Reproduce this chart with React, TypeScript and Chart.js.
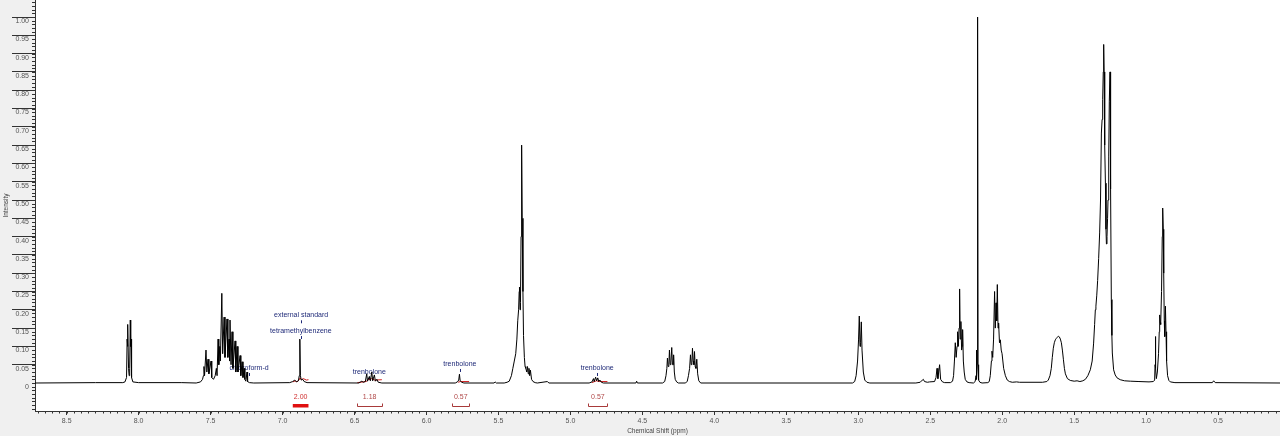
import React, { useEffect, useRef } from "react";
import { Chart, registerables } from "chart.js";
Chart.register(...registerables);

// ---- axis definitions ----
const xTickValues = [8.5, 8.0, 7.5, 7.0, 6.5, 6.0, 5.5, 5.0, 4.5, 4.0, 3.5, 3.0, 2.5, 2.0, 1.5, 1.0, 0.5];
const yTickValues = [0, 0.05, 0.1, 0.15, 0.2, 0.25, 0.3, 0.35, 0.4, 0.45, 0.5, 0.55, 0.6, 0.65, 0.7, 0.75, 0.8, 0.85, 0.9, 0.95, 1.0];
const xRange = [0.07, 8.72];
const yRange = [-0.0765, 1.0465];

// ---- spectrum, [ppm, intensity] ----
const segDoublet807: [number, number][] = [
  [8.72, 0], [8.3, 0.001], [8.11, 0.001], [8.095, 0.003], [8.084, 0.015], [8.08, 0.12], [8.078, 0.1],
  [8.074, 0.16], [8.07, 0.04], [8.066, 0.02], [8.062, 0.04], [8.058, 0.172], [8.055, 0.1], [8.053, 0.12],
  [8.049, 0.015], [8.04, 0.003], [8.0, 0.001], [7.7, 0.001],
];
const segAromatic: [number, number][] = [
  [7.6, 0], [7.57, 0.003], [7.556, 0.01], [7.55, 0.02], [7.546, 0.045], [7.542, 0.02], [7.532, 0.09],
  [7.526, 0.03], [7.518, 0.065], [7.512, 0.025], [7.497, 0.06], [7.492, 0.015], [7.48, 0.01], [7.468, 0.02],
  [7.46, 0.04], [7.455, 0.02], [7.448, 0.12], [7.443, 0.05], [7.436, 0.1], [7.432, 0.06], [7.422, 0.245],
  [7.416, 0.08], [7.406, 0.18], [7.4, 0.07], [7.386, 0.175], [7.38, 0.07], [7.372, 0.12], [7.368, 0.06],
  [7.365, 0.172], [7.358, 0.05], [7.351, 0.14], [7.345, 0.04], [7.33, 0.115], [7.325, 0.03], [7.316, 0.1],
  [7.31, 0.03], [7.295, 0.075], [7.29, 0.02], [7.281, 0.058], [7.275, 0.015], [7.267, 0.04], [7.262, 0.01],
  [7.255, 0.005], [7.247, 0.03], [7.243, 0.004], [7.23, 0.001], [7.2, 0], [6.95, 0.001],
];
const segStandard: [number, number][] = [
  [6.93, 0.004], [6.915, 0.008], [6.905, 0.003], [6.89, 0.006], [6.884, 0.02], [6.88, 0.12], [6.876, 0.02],
  [6.87, 0.008], [6.86, 0.01], [6.85, 0.004], [6.83, 0.001], [6.47, 0],
];
const segTren640: [number, number][] = [
  [6.449, 0.005], [6.44, 0.002], [6.425, 0.004], [6.415, 0.025], [6.41, 0.005], [6.397, 0.018], [6.39, 0.006],
  [6.38, 0.03], [6.374, 0.006], [6.362, 0.022], [6.355, 0.005], [6.345, 0.01], [6.335, 0.002], [6.31, 0], [5.8, 0],
];
const segTren577: [number, number][] = [
  [5.785, 0.003], [5.776, 0.008], [5.771, 0.024], [5.766, 0.006], [5.755, 0.002], [5.74, 0], [5.53, 0],
  [5.523, 0.003], [5.515, 0],
];
const segOlefin534: [number, number][] = [
  [5.46, 0], [5.44, 0.002], [5.425, 0.005], [5.41, 0.02], [5.4, 0.04], [5.39, 0.06], [5.38, 0.08], [5.372, 0.12],
  [5.366, 0.17], [5.36, 0.2], [5.356, 0.25], [5.354, 0.262], [5.35, 0.2], [5.347, 0.22], [5.343, 0.4],
  [5.34, 0.6], [5.338, 0.65], [5.335, 0.45], [5.33, 0.25], [5.326, 0.13], [5.32, 0.07], [5.315, 0.045],
  [5.31, 0.04], [5.303, 0.03], [5.298, 0.045], [5.293, 0.025], [5.288, 0.04], [5.283, 0.02], [5.278, 0.035],
  [5.27, 0.01], [5.26, 0.004], [5.245, 0.001], [5.23, 0], [5.16, 0.004], [5.15, 0],
];
const segTren482: [number, number][] = [
  [4.87, 0], [4.85, 0.003], [4.84, 0.012], [4.835, 0.004], [4.825, 0.016], [4.818, 0.006], [4.81, 0.014],
  [4.803, 0.004], [4.795, 0.008], [4.785, 0.002], [4.77, 0], [4.545, 0], [4.54, 0.005], [4.535, 0],
];
const segMulti430: [number, number][] = [
  [4.36, 0], [4.345, 0.004], [4.336, 0.02], [4.33, 0.04], [4.326, 0.068], [4.321, 0.045], [4.316, 0.05],
  [4.312, 0.09], [4.307, 0.05], [4.302, 0.055], [4.296, 0.097], [4.291, 0.05], [4.287, 0.05], [4.283, 0.077],
  [4.278, 0.03], [4.272, 0.01], [4.262, 0.003], [4.25, 0],
];
const segMulti415: [number, number][] = [
  [4.2, 0], [4.188, 0.005], [4.18, 0.02], [4.172, 0.04], [4.166, 0.077], [4.161, 0.05], [4.156, 0.055],
  [4.152, 0.095], [4.147, 0.06], [4.142, 0.05], [4.138, 0.086], [4.133, 0.045], [4.128, 0.04], [4.122, 0.065],
  [4.116, 0.025], [4.108, 0.006], [4.095, 0], [3.04, 0],
];
const segPeak299: [number, number][] = [
  [3.025, 0.004], [3.015, 0.02], [3.005, 0.06], [2.998, 0.12], [2.993, 0.183], [2.988, 0.1], [2.984, 0.11],
  [2.979, 0.167], [2.974, 0.09], [2.965, 0.03], [2.955, 0.008], [2.94, 0.002], [2.92, 0], [2.6, 0],
];
const segSmall250: [number, number][] = [
  [2.57, 0.002], [2.555, 0.008], [2.548, 0.01], [2.54, 0.004], [2.52, 0.002], [2.505, 0.003], [2.47, 0.004],
  [2.46, 0.015], [2.453, 0.04], [2.447, 0.012], [2.435, 0.05], [2.428, 0.01], [2.415, 0.003], [2.4, 0.001],
];
const segMulti230: [number, number][] = [
  [2.36, 0.001], [2.345, 0.005], [2.338, 0.02], [2.332, 0.06], [2.326, 0.11], [2.32, 0.07], [2.314, 0.1],
  [2.31, 0.14], [2.305, 0.1], [2.3, 0.15], [2.296, 0.257], [2.292, 0.12], [2.287, 0.168], [2.282, 0.09],
  [2.278, 0.1], [2.275, 0.146], [2.27, 0.06], [2.264, 0.03], [2.257, 0.01], [2.245, 0.003], [2.23, 0.001],
];
const segSinglet217: [number, number][] = [
  [2.2, 0], [2.188, 0.004], [2.182, 0.02], [2.18, 0.09], [2.177, 0.01], [2.174, 0.05], [2.171, 1.0],
  [2.168, 0.05], [2.164, 0.008], [2.155, 0.002], [2.14, 0],
];
const segMulti203: [number, number][] = [
  [2.1, 0.001], [2.09, 0.004], [2.083, 0.02], [2.075, 0.06], [2.071, 0.087], [2.066, 0.07], [2.06, 0.12],
  [2.053, 0.25], [2.048, 0.15], [2.043, 0.219], [2.038, 0.17], [2.034, 0.269], [2.029, 0.15], [2.025, 0.164],
  [2.019, 0.11], [2.013, 0.118], [2.007, 0.09], [2.001, 0.08], [1.99, 0.04], [1.978, 0.02], [1.965, 0.008],
  [1.95, 0.004], [1.93, 0.002], [1.9, 0.003], [1.88, 0.002],
];
const segBroad160: [number, number][] = [
  [1.72, 0.002], [1.69, 0.004], [1.68, 0.008], [1.668, 0.02], [1.659, 0.04], [1.652, 0.07], [1.645, 0.095],
  [1.638, 0.11], [1.631, 0.118], [1.624, 0.122], [1.617, 0.125], [1.61, 0.128], [1.603, 0.126], [1.596, 0.12],
  [1.589, 0.11], [1.582, 0.09], [1.575, 0.065], [1.568, 0.04], [1.561, 0.025], [1.547, 0.012], [1.527, 0.007],
  [1.5, 0.005], [1.48, 0.006],
];
const segMethylene128: [number, number][] = [
  [1.46, 0.004], [1.44, 0.006], [1.422, 0.01], [1.405, 0.02], [1.388, 0.036], [1.375, 0.06], [1.365, 0.109],
  [1.358, 0.16], [1.353, 0.2], [1.349, 0.21], [1.343, 0.24], [1.337, 0.28], [1.33, 0.34], [1.323, 0.41],
  [1.317, 0.5], [1.311, 0.683], [1.306, 0.72], [1.302, 0.774], [1.298, 0.85], [1.295, 0.925], [1.292, 0.85],
  [1.29, 0.774], [1.286, 0.65], [1.283, 0.546], [1.279, 0.42], [1.276, 0.38], [1.272, 0.4], [1.268, 0.45],
  [1.265, 0.5], [1.26, 0.62], [1.256, 0.77], [1.251, 0.85], [1.247, 0.53], [1.242, 0.228], [1.238, 0.13],
  [1.235, 0.082], [1.226, 0.036], [1.215, 0.022], [1.202, 0.014], [1.18, 0.009], [1.15, 0.006], [1.11, 0.005],
  [1.05, 0.004], [0.98, 0.003],
];
const segMethyl088: [number, number][] = [
  [0.95, 0.004], [0.941, 0.008], [0.938, 0.05], [0.936, 0.127], [0.933, 0.04], [0.929, 0.012], [0.922, 0.03],
  [0.914, 0.08], [0.909, 0.14], [0.906, 0.186], [0.902, 0.165], [0.899, 0.16], [0.893, 0.25], [0.888, 0.4],
  [0.885, 0.478], [0.881, 0.42], [0.878, 0.3], [0.874, 0.17], [0.871, 0.127], [0.866, 0.21], [0.862, 0.14],
  [0.858, 0.06], [0.851, 0.02], [0.842, 0.007], [0.832, 0.003], [0.8, 0.001], [0.54, 0.001], [0.531, 0.006],
  [0.52, 0.001], [0.07, 0],
];

// ---- integral curves (red, near baseline) ----
const integralCurve200: [number, number][] = [
  [6.929, 0.003], [6.91, 0.006], [6.9, 0.003], [6.886, 0.008], [6.878, 0.014], [6.87, 0.009], [6.855, 0.012], [6.835, 0.008], [6.82, 0.009],
];
const integralCurve118: [number, number][] = [
  [6.48, 0.001], [6.42, 0.004], [6.4, 0.01], [6.38, 0.012], [6.36, 0.008], [6.31, 0.009],
];
const integralCurve057a: [number, number][] = [[5.78, 0.002], [5.765, 0.004], [5.704, 0.004]];
const integralCurve057b: [number, number][] = [[4.85, 0.001], [4.82, 0.006], [4.8, 0.004], [4.743, 0.004]];

// ---- integral brackets ----
const integralLabels = ["2.00", "1.18", "0.57", "0.57"];
const integralFrom = [6.929, 6.48, 5.82, 4.875];
const integralTo = [6.82, 6.31, 5.704, 4.743];

// ---- peak annotations ----
const annotationText = ["external standard", "tetramethylbenzene", "chloroform-d", "trenbolone", "trenbolone", "trenbolone"];
const annotationPpm = [6.871, 6.873, 7.233, 6.397, 5.768, 4.814];
const annotationLevel = [0.185, 0.142, 0.041, 0.03, 0.052, 0.041];

const spectrum = [
  ...segDoublet807, ...segAromatic, ...segStandard, ...segTren640, ...segTren577, ...segOlefin534,
  ...segTren482, ...segMulti430, ...segMulti415, ...segPeak299, ...segSmall250, ...segMulti230,
  ...segSinglet217, ...segMulti203, ...segBroad160, ...segMethylene128, ...segMethyl088,
];

const toXY = (arr: [number, number][]) => arr.map(([x, y]) => ({ x, y }));

const FONT = '"Liberation Sans", Arial, sans-serif';

const decorPlugin = {
  id: "nmrDecor",
  beforeDraw(chart: any) {
    const { ctx, chartArea: ca, width, height } = chart;
    ctx.save();
    ctx.fillStyle = "#f0f0f0";
    ctx.fillRect(0, 0, width, height);
    ctx.fillStyle = "#ffffff";
    ctx.fillRect(ca.left, ca.top, ca.right - ca.left, ca.bottom - ca.top);
    ctx.restore();
  },
  beforeDatasetsDraw(chart: any) {
    const { ctx } = chart;
    const xs = chart.scales.x;
    const ys = chart.scales.y;
    ctx.save();
    ctx.font = `7px ${FONT}`;
    ctx.fillStyle = "#1f2a78";
    ctx.strokeStyle = "#1f2a78";
    ctx.textAlign = "center";
    ctx.textBaseline = "middle";
    ctx.lineWidth = 1;
    annotationText.forEach((t, i) => {
      const x = xs.getPixelForValue(annotationPpm[i]);
      const y = ys.getPixelForValue(annotationLevel[i]);
      ctx.fillText(t, x, y);
      const px = Math.round(x) + 0.5;
      ctx.beginPath();
      ctx.moveTo(px, y + 5);
      ctx.lineTo(px, y + 8);
      ctx.stroke();
    });
    ctx.restore();
  },
  afterDraw(chart: any) {
    const { ctx, chartArea: ca } = chart;
    const xs = chart.scales.x;
    const ys = chart.scales.y;
    ctx.save();
    // minor ticks
    ctx.strokeStyle = "#333";
    ctx.lineWidth = 1;
    ctx.beginPath();
    for (let i = -7; i <= 104; i++) {
      const py = Math.round(ys.getPixelForValue(i / 100)) + 0.5;
      ctx.moveTo(ca.left - 3, py);
      ctx.lineTo(ca.left, py);
    }
    for (let i = 2; i <= 174; i++) {
      const v = i * 0.05;
      if (v < xRange[0] || v > xRange[1]) continue;
      const px = Math.round(xs.getPixelForValue(v)) + 0.5;
      ctx.moveTo(px, ca.bottom);
      ctx.lineTo(px, ca.bottom + 2.5);
    }
    ctx.stroke();
    // integrals
    ctx.font = `7px ${FONT}`;
    ctx.textAlign = "center";
    ctx.textBaseline = "middle";
    integralLabels.forEach((lab, i) => {
      const x1 = xs.getPixelForValue(integralFrom[i]);
      const x2 = xs.getPixelForValue(integralTo[i]);
      const cx = (x1 + x2) / 2;
      const col = i === 0 ? "#e01010" : "#a83a3a";
      ctx.fillStyle = i === 0 ? "#d03030" : "#b04848";
      ctx.fillText(lab, cx, ca.bottom - 14);
      if (i === 0) {
        ctx.fillStyle = col;
        ctx.fillRect(x1, ca.bottom - 7, x2 - x1, 3.5);
      } else {
        ctx.strokeStyle = col;
        ctx.beginPath();
        const by = ca.bottom - 4.5;
        ctx.moveTo(Math.round(x1) + 0.5, by - 3);
        ctx.lineTo(Math.round(x1) + 0.5, by);
        ctx.lineTo(Math.round(x2) + 0.5, by);
        ctx.lineTo(Math.round(x2) + 0.5, by - 3);
        ctx.stroke();
      }
    });
    ctx.restore();
  },
};

export default function App() {
  const ref = useRef<HTMLCanvasElement | null>(null);
  useEffect(() => {
    document.body.style.margin = "0";
    const canvas = ref.current!;
    const red = "#d02020";
    const chart = new Chart(canvas, {
      type: "line",
      data: {
        datasets: [
          { data: toXY(spectrum), borderColor: "#000", borderWidth: 1, pointRadius: 0, tension: 0, order: 1 },
          { data: toXY(integralCurve200), borderColor: red, borderWidth: 1, pointRadius: 0, order: 2 },
          { data: toXY(integralCurve118), borderColor: red, borderWidth: 1, pointRadius: 0, order: 2 },
          { data: toXY(integralCurve057a), borderColor: red, borderWidth: 1, pointRadius: 0, order: 2 },
          { data: toXY(integralCurve057b), borderColor: red, borderWidth: 1, pointRadius: 0, order: 2 },
        ],
      },
      options: {
        animation: false,
        responsive: false,
        events: [],
        layout: { padding: 0 },
        plugins: { legend: { display: false }, tooltip: { enabled: false }, title: { display: false } },
        scales: {
          x: {
            type: "linear",
            reverse: true,
            min: xRange[0],
            max: xRange[1],
            afterBuildTicks: (s: any) => { s.ticks = xTickValues.map((value) => ({ value })); },
            afterFit: (s: any) => { s.height = 25; },
            grid: { display: true, drawOnChartArea: false, drawTicks: true, tickLength: 4, tickColor: "#333", color: "#333" },
            border: { display: true, color: "#333", width: 1 },
            ticks: { autoSkip: false, maxRotation: 0, padding: 2, font: { family: FONT, size: 7 }, color: "#555", callback: (v: any) => Number(v).toFixed(1) },
            title: { display: true, text: "Chemical Shift (ppm)", font: { family: FONT, size: 6.5 }, color: "#444", padding: { top: 0, bottom: 1 } },
          },
          y: {
            type: "linear",
            min: yRange[0],
            max: yRange[1],
            afterBuildTicks: (s: any) => { s.ticks = yTickValues.map((value) => ({ value })); },
            afterFit: (s: any) => { s.width = 35; },
            grid: {
              display: true, drawOnChartArea: false, drawTicks: true, tickLength: 23, color: "#333",
              tickColor: (c: any) => (c.tick && c.tick.value === 0 ? "rgba(0,0,0,0)" : "#333"),
            },
            border: { display: true, color: "#333", width: 1 },
            ticks: { autoSkip: false, padding: -17, labelOffset: 4, font: { family: FONT, size: 7 }, color: "#555", callback: (v: any) => (Number(v) === 0 ? "0" : Number(v).toFixed(2)) },
            title: { display: true, text: "Intensity", font: { family: FONT, size: 6.5 }, color: "#444", padding: { top: 2, bottom: 0 } },
          },
        },
      },
      plugins: [decorPlugin],
    });
    return () => chart.destroy();
  }, []);
  return (
    <div style={{ position: "fixed", left: 0, top: 0, width: 1280, height: 436 }}>
      <canvas ref={ref} width={1280} height={436} style={{ display: "block" }} />
    </div>
  );
}
